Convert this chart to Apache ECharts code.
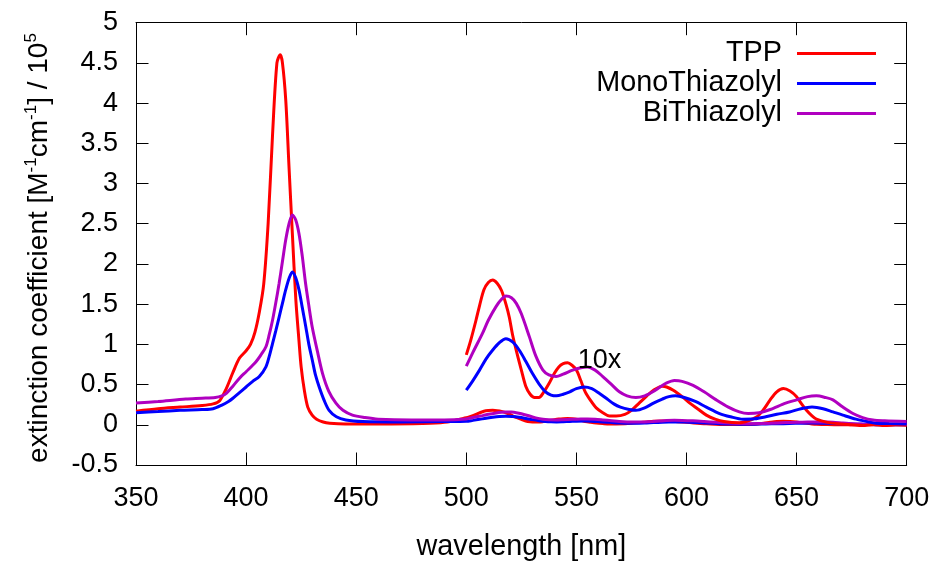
<!DOCTYPE html>
<html>
<head>
<meta charset="utf-8">
<script src="https://cdn.jsdelivr.net/npm/echarts@6/dist/echarts.min.js"></script>
<style>html,body{margin:0;padding:0;background:#fff}#c{width:937px;height:563px}</style>
</head>
<body>
<div id="c"></div>
<script>
// ---- data (extinction coefficient / 1e5) ----
const xTicks = [350, 400, 450, 500, 550, 600, 650, 700];
const yTicks = [-0.5, 0, 0.5, 1, 1.5, 2, 2.5, 3, 3.5, 4, 4.5, 5];
const magnifyFrom = 500;
const magnifyFactor = 10;

const tppWl  = [350,360,370,380,385,388,391,394,397,400,402,404,406,408,410,412,414,415.5,416.5,418,419.5,421,422.6,424,425,426.5,428,430,432,435,438,445,460,480,490,
  500,502,504.4,506,508,510,512,514,516,518,519.5,521,523,525,527,529,531,533,535,537.5,540,542,544,546,548,550,552,554,556.5,559,562,565,568,572,575,578.5,582,585,589,591,594,598,601.5,605,609,613,617,624,628,632,635,638,641,644,647,650,652,654.5,657,659,664,670,675,680,685,690,695,700];
const tppVal = [0.17,0.2,0.22,0.24,0.26,0.3,0.45,0.65,0.83,0.92,1.0,1.15,1.4,1.75,2.5,3.6,4.5,4.6,4.5,4.04,3.2,2.38,1.55,1.05,0.72,0.42,0.22,0.12,0.07,0.035,0.02,0.01,0.01,0.015,0.03,
  0.087,0.105,0.13,0.148,0.168,0.177,0.18,0.176,0.167,0.15,0.134,0.112,0.089,0.068,0.048,0.038,0.034,0.034,0.04,0.051,0.064,0.072,0.076,0.077,0.074,0.068,0.055,0.041,0.03,0.021,0.015,0.011,0.011,0.013,0.018,0.027,0.036,0.043,0.048,0.047,0.043,0.035,0.027,0.02,0.012,0.007,0.004,0.0025,0.005,0.01,0.019,0.031,0.041,0.045,0.042,0.035,0.027,0.018,0.011,0.007,0.003,0.001,0.0,-0.001,0.0005,-0.001,0.0,-0.0005];

const monoWl  = [350,360,370,380,385,389,392,394,397,400,403,406,409,410.5,412,413.5,415,416.5,418,419.5,421,422.5,424,425.5,427.1,428.5,430.1,431.5,433.2,435.5,437.7,441,445.3,453,470,490,
  500,503,506,509,512,515,518,521,524,527,530,533,536,538.5,541,544,547,550,553.5,557,560.5,564,567,570,574,577,581,585,589,592,595,599,604,609,615,620,625.6,631,636,641,646.8,652,657,662,666.5,671,677,682,686,692,700];
const monoVal = [0.15,0.165,0.18,0.19,0.2,0.245,0.29,0.33,0.4,0.47,0.54,0.6,0.72,0.85,1.01,1.17,1.34,1.51,1.68,1.82,1.9,1.83,1.68,1.46,1.22,1.0,0.8,0.62,0.47,0.3,0.18,0.1,0.06,0.04,0.035,0.04,
  0.043,0.055,0.068,0.082,0.093,0.102,0.107,0.103,0.093,0.079,0.064,0.051,0.041,0.037,0.036,0.038,0.041,0.045,0.047,0.045,0.039,0.032,0.026,0.022,0.019,0.018,0.021,0.027,0.032,0.035,0.036,0.034,0.029,0.022,0.014,0.01,0.007,0.0075,0.01,0.013,0.016,0.02,0.022,0.02,0.016,0.012,0.007,0.004,0.002,0.0015,0.001];

const biWl  = [350,360,372.6,380,386,389,391,394,397,400,404.4,407,409,410.5,412,413.5,415,416.5,418,419.5,421,422.5,424,425.5,427,428.5,430,432.5,434.7,437.5,440.8,444,448.3,454,460,475,490,
  500,503,507.4,510,513.5,516,518,520.5,522.7,525,528.7,531.5,534.8,537.5,540.8,544,548.3,552,555,558.5,562,566,569.5,573,577,581,584.7,588,591,594.5,598,603,608,613.5,619,624,628,633,638,645,650,655,659,663,666.5,671,675.6,680,684.7,690,700];
const biVal = [0.27,0.29,0.32,0.33,0.34,0.36,0.39,0.48,0.58,0.66,0.78,0.88,0.97,1.12,1.3,1.52,1.76,2.03,2.3,2.5,2.61,2.55,2.38,2.1,1.76,1.48,1.22,0.9,0.64,0.42,0.27,0.18,0.12,0.09,0.07,0.06,0.06,
  0.073,0.09,0.114,0.13,0.147,0.156,0.16,0.158,0.151,0.138,0.109,0.086,0.068,0.062,0.06,0.063,0.068,0.071,0.072,0.068,0.06,0.05,0.041,0.036,0.034,0.036,0.041,0.047,0.052,0.055,0.054,0.049,0.041,0.031,0.022,0.016,0.014,0.015,0.019,0.027,0.031,0.035,0.036,0.034,0.031,0.022,0.014,0.009,0.006,0.005,0.004];

const names = ['TPP', 'MonoThiazolyl', 'BiThiazolyl'];
const colors = ['#ff0000', '#0000ff', '#b000c0'];
// ---------------------------------------------

function pairs(wl, val) { return wl.map((w, i) => [w, val[i]]); }
function magnified(wl, val) {
  const out = [];
  wl.forEach((w, i) => { if (w >= magnifyFrom) out.push([w, val[i] * magnifyFactor]); });
  return out;
}
const sets = [[tppWl, tppVal], [monoWl, monoVal], [biWl, biVal]];
const FONT = 'Liberation Sans, Arial, sans-serif';
const FS_TICK = 27;
const FS_TEXT = 28.8;

const series = [];
sets.forEach((s, k) => {
  series.push({ name: names[k], type: 'line', data: pairs(s[0], s[1]), showSymbol: false, smooth: 0.3,
    lineStyle: { width: 3, color: colors[k] }, itemStyle: { color: colors[k] }, z: 2 });
});
sets.forEach((s, k) => {
  const ser = { name: names[k], type: 'line', data: magnified(s[0], s[1]), showSymbol: false, smooth: 0.3,
    lineStyle: { width: 3, color: colors[k] }, itemStyle: { color: colors[k] }, z: 2 };
  if (k === 0) {
    ser.markPoint = { symbol: 'circle', symbolSize: 1, itemStyle: { color: 'rgba(0,0,0,0)' },
      label: { show: true, formatter: '10x', color: '#000', fontFamily: FONT, fontSize: FS_TICK, position: 'inside' },
      data: [{ coord: [560.5, 0.8] }] };
  }
  series.push(ser);
});

const axisCommon = {
  type: 'value', splitLine: { show: false },
  axisLine: { show: true, onZero: false, lineStyle: { color: '#000', width: 1 } },
  axisTick: { show: true, inside: true, length: 12.5, lineStyle: { color: '#000', width: 1 } },
};

const chart = echarts.init(document.getElementById('c'), null, { renderer: 'canvas' });
chart.setOption({
  animation: false,
  backgroundColor: '#fff',
  grid: { left: 136, right: 30.3, top: 22.7, bottom: 98, containLabel: false, outerBoundsMode: 'none' },
  legend: {
    data: names, orient: 'vertical', align: 'right', right: 56, top: 34, itemGap: 1,
    icon: 'rect', itemWidth: 79, itemHeight: 3,
    textStyle: { fontFamily: FONT, fontSize: FS_TEXT, color: '#000', padding: [0, 10, 0, 0], lineHeight: 28 },
    selectedMode: false
  },
  xAxis: [
    Object.assign({}, axisCommon, { position: 'bottom', min: xTicks[0], max: xTicks[xTicks.length - 1], interval: 50,
      axisLabel: { color: '#000', fontFamily: FONT, fontSize: FS_TICK, margin: 20 },
      name: 'wavelength [nm]', nameLocation: 'middle', nameGap: 68,
      nameTextStyle: { color: '#000', fontFamily: FONT, fontSize: FS_TEXT } }),
    Object.assign({}, axisCommon, { position: 'top', min: xTicks[0], max: xTicks[xTicks.length - 1], interval: 50,
      axisLabel: { show: false } })
  ],
  yAxis: [
    Object.assign({}, axisCommon, { position: 'left', min: yTicks[0], max: yTicks[yTicks.length - 1], interval: 0.5,
      axisLabel: { color: '#000', fontFamily: FONT, fontSize: FS_TICK, margin: 18 } }),
    Object.assign({}, axisCommon, { position: 'right', min: yTicks[0], max: yTicks[yTicks.length - 1], interval: 0.5,
      axisLabel: { show: false } })
  ],
  graphic: [{
    type: 'text', x: 39, y: 248, rotation: Math.PI / 2,
    style: {
      text: 'extinction coefficient [M{sup|-1}cm{sup|-1}] / 10{sup|5}',
      fontFamily: FONT, fontSize: 28, fill: '#000', align: 'center', verticalAlign: 'middle', lineHeight: 32,
      rich: { sup: { fontFamily: FONT, fontSize: 17, fill: '#000', verticalAlign: 'top', lineHeight: 32 } }
    }
  }],
  series: series
});
</script>
</body>
</html>
